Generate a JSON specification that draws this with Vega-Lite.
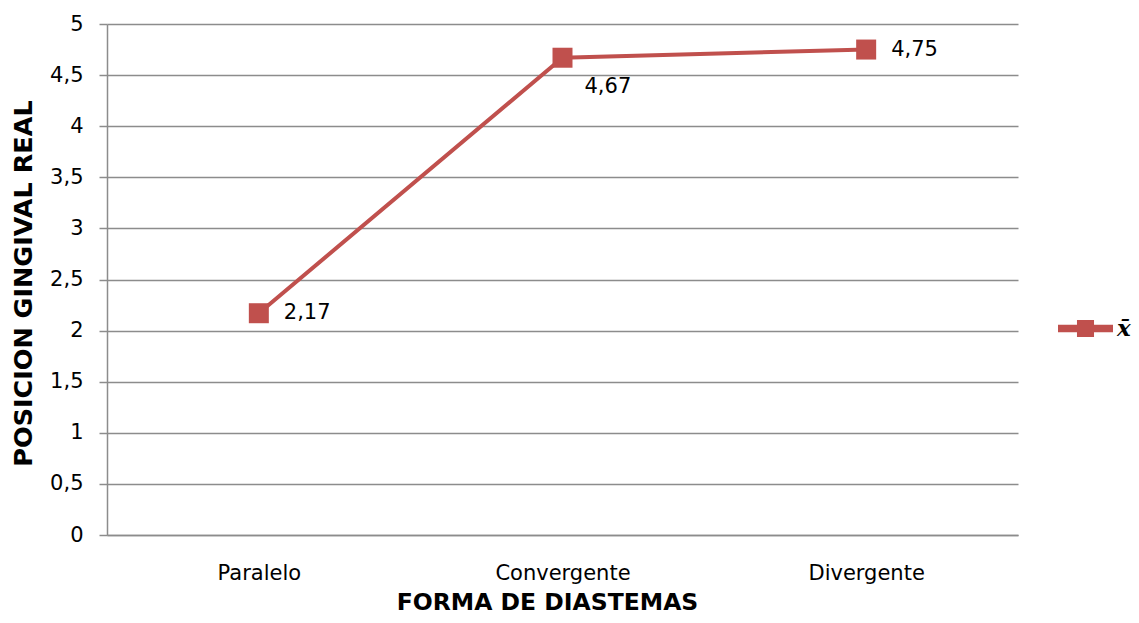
{
  "$schema": "https://vega.github.io/schema/vega-lite/v6.json",
  "width": 911,
  "height": 511,
  "autosize": {"type": "none"},
  "padding": {"left": 107, "top": 24, "right": 121, "bottom": 88},
  "background": "white",
  "config": {
    "view": {"stroke": null},
    "locale": {"number": {"decimal": ",", "thousands": ".", "grouping": [3], "currency": ["", ""]}}
  },
  "data": {
    "values": [
      {"forma": "Paralelo", "valor": 2.17, "serie": "x̄"},
      {"forma": "Convergente", "valor": 4.67, "serie": "x̄"},
      {"forma": "Divergente", "valor": 4.75, "serie": "x̄"}
    ]
  },
  "encoding": {
    "x": {
      "field": "forma",
      "type": "nominal",
      "sort": null,
      "scale": {"type": "point", "padding": 0.5},
      "axis": {
        "title": "FORMA DE DIASTEMAS",
        "labelAngle": 0,
        "ticks": false,
        "tickSize": 0,
        "labelPadding": 44,
        "labelBaseline": "alphabetic",
        "labelFont": "DejaVu Sans",
        "labelFontSize": 21,
        "labelColor": "#000000",
        "domainColor": "#8c8c8c",
        "domainWidth": 1.5,
        "grid": false,
        "titleFont": "DejaVu Sans",
        "titleFontSize": 23.5,
        "titleFontWeight": "bold",
        "titleColor": "#000000",
        "titleX": 440,
        "titleY": 74,
        "titleAlign": "center",
        "titleBaseline": "alphabetic"
      }
    },
    "y": {
      "field": "valor",
      "type": "quantitative",
      "scale": {"domain": [0, 5], "nice": false, "zero": true},
      "axis": {
        "title": "POSICION GINGIVAL REAL",
        "values": [0, 0.5, 1, 1.5, 2, 2.5, 3, 3.5, 4, 4.5, 5],
        "format": ".1~f",
        "labelFont": "DejaVu Sans",
        "labelFontSize": 21,
        "labelColor": "#000000",
        "labelPadding": 16,
        "tickSize": 8,
        "tickColor": "#8c8c8c",
        "tickWidth": 1.5,
        "domainColor": "#8c8c8c",
        "domainWidth": 1.5,
        "grid": true,
        "gridColor": "#8c8c8c",
        "gridWidth": 1.5,
        "titleFont": "DejaVu Sans",
        "titleFontSize": 25.5,
        "titleFontWeight": "bold",
        "titleColor": "#000000",
        "titleAngle": -90,
        "titleX": -84,
        "titleY": 259,
        "titleAlign": "center",
        "titleBaseline": "middle"
      }
    }
  },
  "layer": [
    {
      "mark": {"type": "line", "color": "#C0504D", "strokeWidth": 4},
      "encoding": {}
    },
    {
      "mark": {"type": "point", "shape": "square", "filled": true, "size": 400, "opacity": 1},
      "encoding": {
        "color": {
          "field": "serie",
          "type": "nominal",
          "scale": {"range": ["#C0504D"]},
          "legend": {
            "orient": "none",
            "legendX": 951,
            "legendY": 277,
            "title": null,
            "symbolType": "M-1,-0.14H1V0.14H-1Z M-0.31,-0.31H0.31V0.31H-0.31Z",
            "symbolSize": 3025,
            "symbolStrokeWidth": 0,
            "symbolFillColor": "#C0504D",
            "symbolOpacity": 1,
            "labelFont": "DejaVu Serif",
            "labelFontSize": 23,
            "labelFontStyle": "italic",
            "labelFontWeight": "bold",
            "labelColor": "#000000",
            "labelOffset": 4
          }
        }
      }
    },
    {
      "transform": [{"filter": "datum.forma !== 'Convergente'"}],
      "mark": {"type": "text", "align": "left", "baseline": "middle", "dx": 25, "font": "DejaVu Sans", "fontSize": 21, "color": "#000000"},
      "encoding": {"text": {"field": "valor", "type": "quantitative", "format": ".2f"}}
    },
    {
      "transform": [{"filter": "datum.forma === 'Convergente'"}],
      "mark": {"type": "text", "align": "left", "baseline": "middle", "dx": 22, "dy": 29, "font": "DejaVu Sans", "fontSize": 21, "color": "#000000"},
      "encoding": {"text": {"field": "valor", "type": "quantitative", "format": ".2f"}}
    }
  ]
}
